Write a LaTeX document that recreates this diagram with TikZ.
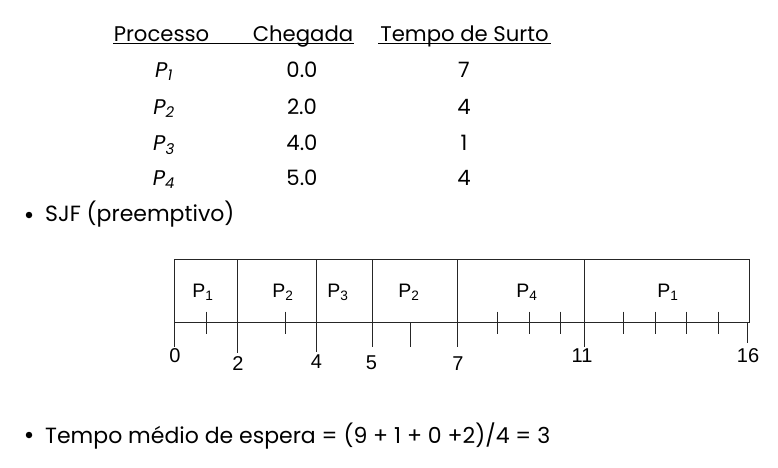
\documentclass[tikz,border=0pt]{standalone}
\usepackage{fontspec}
\setmainfont{Poppins}
\newfontfamily\gfont{Liberation Sans}
\begin{document}
\begin{tikzpicture}[x=1pt,y=-1pt,
  hdr/.style={anchor=base,inner sep=0pt,font=\fontsize{21.2}{24}\selectfont},
  cell/.style={anchor=base,inner sep=0pt,font=\fontsize{21.2}{24}\selectfont},
  bul/.style={anchor=base west,inner sep=0pt,font=\fontsize{22}{25}\selectfont},
  dot/.style={circle,fill=black,inner sep=0pt,minimum size=6.5pt},
  glab/.style={anchor=base,inner sep=0pt,font=\gfont\fontsize{19.5}{22}\selectfont},
  gnum/.style={anchor=center,inner sep=0pt,font=\gfont\fontsize{20}{22}\selectfont},
  gl/.style={line width=0.9pt,draw=black!85}]
\useasboundingbox (0,0) rectangle (778,467);
% table header
\node[hdr] (h1) at (161.5,41) {Processo};
\node[hdr] (h2) at (303,41) {Chegada};
\node[hdr] (h3) at (464.5,41) {Tempo de Surto};
\coordinate (u1a) at (113,43.5); \coordinate (u1b) at (354,43.5);
\coordinate (u2a) at (378,43.5); \coordinate (u2b) at (551,43.5);
\draw[line width=1.3pt] (u1a) -- (u1b);
\draw[line width=1.3pt] (u2a) -- (u2b);
% rows
\foreach \i/\a/\b/\y in {1/0.0/7/77.5, 2/2.0/4/114, 3/4.0/1/150.5, 4/5.0/4/185.5}{
  \node[cell] (p\i) at (164,\y) {\itshape P$_{\mathit{\i}}$};
  \node[cell] (a\i) at (302,\y) {\a};
  \node[cell] (b\i) at (464,\y) {\b};
}
% bullets
\node[dot] (d1) at (29,215) {};
\node[bul] (t1) at (45,221.5) {SJF (preemptivo)};
\node[dot] (d2) at (29,435) {};
\node[bul] (t2) at (45,443) {Tempo médio de espera = (9 + 1 + 0 +2)/4 = 3};
% gantt frame
\coordinate (tl) at (174.3,259); \coordinate (tr) at (749.3,259);
\coordinate (br) at (749.3,322); \coordinate (bl) at (174.3,322);
\draw[gl] (bl) -- (tl) -- (tr) -- (br) -- (bl);
\draw[gl] (174.3,322) -- (174.3,347);
\draw[gl] (237.7,259) -- (237.7,353);
\draw[gl] (316.7,259) -- (316.7,352);
\draw[gl] (372,259) -- (372,347);
\draw[gl] (457.7,259) -- (457.7,347);
\draw[gl] (584,259) -- (584,347);
\draw[gl] (747,322) -- (747,343);
\draw[gl] (410.7,322) -- (410.7,347);
\foreach \x in {206,285,497.7,529,560.7,623.3,655,686.7,718}
  \draw[gl] (\x,311.5) -- (\x,334);
% gantt labels
\node[glab] (g1) at (203,297.5) {P\textsubscript{1}};
\node[glab] (g2) at (283,297.5) {P\textsubscript{2}};
\node[glab] (g3) at (338,297.5) {P\textsubscript{3}};
\node[glab] (g4) at (409,297.5) {P\textsubscript{2}};
\node[glab] (g5) at (527,297.5) {P\textsubscript{4}};
\node[glab] (g6) at (668,297.5) {P\textsubscript{1}};
% axis numbers
\node[gnum] (n0) at (175,356) {0};
\node[gnum] (n2) at (238,364) {2};
\node[gnum] (n4) at (316.5,362) {4};
\node[gnum] (n5) at (371.5,362.5) {5};
\node[gnum] (n7) at (458,363.5) {7};
\node[gnum] (n11) at (582,356) {11};
\node[gnum] (n16) at (748,356) {16};
\end{tikzpicture}
\end{document}
